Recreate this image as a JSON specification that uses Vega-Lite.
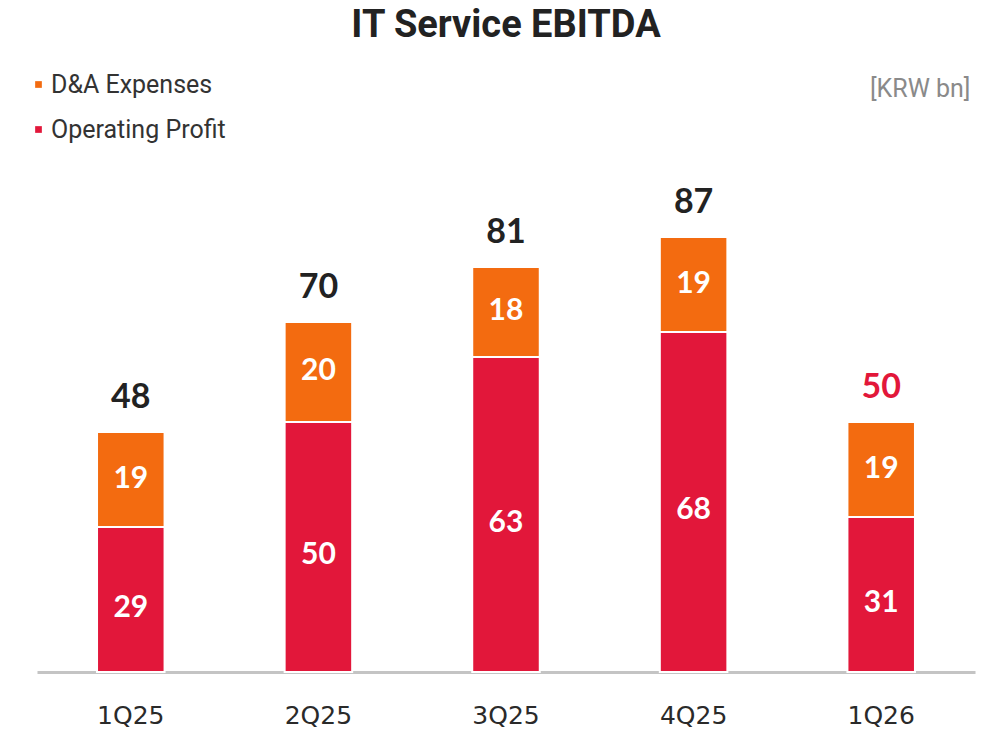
{
  "$schema": "https://vega.github.io/schema/vega-lite/v6.json",
  "width": 938,
  "height": 500,
  "autosize": {"type": "none"},
  "padding": {"left": 37, "right": 14, "top": 172, "bottom": 60},
  "background": "white",
  "config": {"view": {"stroke": null}},
  "title": {
    "text": "IT Service EBITDA",
    "font": "Roboto",
    "fontWeight": "bold",
    "fontSize": 38,
    "color": "#222222",
    "anchor": "middle",
    "frame": "group",
    "offset": 27
  },
  "datasets": {
    "parts": [
      {"quarter": "1Q25", "series": "Operating Profit", "value": 29},
      {"quarter": "1Q25", "series": "D&A Expenses", "value": 19},
      {"quarter": "2Q25", "series": "Operating Profit", "value": 50},
      {"quarter": "2Q25", "series": "D&A Expenses", "value": 20},
      {"quarter": "3Q25", "series": "Operating Profit", "value": 63},
      {"quarter": "3Q25", "series": "D&A Expenses", "value": 18},
      {"quarter": "4Q25", "series": "Operating Profit", "value": 68},
      {"quarter": "4Q25", "series": "D&A Expenses", "value": 19},
      {"quarter": "1Q26", "series": "Operating Profit", "value": 31},
      {"quarter": "1Q26", "series": "D&A Expenses", "value": 19}
    ],
    "totals": [
      {"quarter": "1Q25", "total": 48},
      {"quarter": "2Q25", "total": 70},
      {"quarter": "3Q25", "total": 81},
      {"quarter": "4Q25", "total": 87},
      {"quarter": "1Q26", "total": 50}
    ]
  },
  "encoding": {
    "x": {
      "field": "quarter",
      "type": "nominal",
      "sort": ["1Q25", "2Q25", "3Q25", "4Q25", "1Q26"],
      "scale": {"paddingInner": 0.64, "paddingOuter": 0.32},
      "axis": {
        "title": null,
        "labelAngle": 0,
        "labelFont": "DejaVu Sans",
        "labelFontSize": 25,
        "labelColor": "#2a2a2a",
        "labelPadding": 31,
        "ticks": false,
        "domainColor": "#c4c4c4",
        "domainWidth": 3,
        "grid": false
      }
    }
  },
  "layer": [
    {
      "data": {"name": "parts"},
      "mark": {"type": "bar", "stroke": "white", "strokeWidth": 2},
      "encoding": {
        "y": {
          "field": "value",
          "type": "quantitative",
          "stack": "zero",
          "scale": {"domain": [0, 100], "nice": false},
          "axis": {
            "orient": "right",
            "title": "[KRW bn]",
            "titleAngle": 0,
            "titleAlign": "right",
            "titleBaseline": "middle",
            "titleX": -5,
            "titleY": -84,
            "titleFont": "Roboto",
            "titleFontWeight": "normal",
            "titleFontSize": 25,
            "titleColor": "#8a8a8a",
            "labels": false,
            "ticks": false,
            "domain": false,
            "grid": false
          }
        },
        "color": {
          "field": "series",
          "type": "nominal",
          "scale": {"domain": ["D&A Expenses", "Operating Profit"], "range": ["#F36B10", "#E2173A"]},
          "legend": {
            "title": null,
            "orient": "none",
            "legendX": -11,
            "legendY": -100,
            "direction": "vertical",
            "symbolType": "square",
            "symbolSize": 45,
            "symbolStrokeWidth": 0,
            "labelFont": "Roboto",
            "labelFontSize": 25,
            "labelColor": "#333333",
            "labelOffset": 0,
            "labelLimit": 400,
            "rowPadding": 19,
            "padding": 0
          }
        },
        "order": {"field": "series", "sort": "descending"}
      }
    },
    {
      "data": {"name": "parts"},
      "transform": [
        {"stack": "value", "groupby": ["quarter"], "sort": [{"field": "series", "order": "descending"}], "as": ["v0", "v1"]},
        {"calculate": "(datum.v0 + datum.v1) / 2", "as": "mid"},
        {"filter": "datum.series == 'Operating Profit'"}
      ],
      "mark": {"type": "text", "font": "Lato", "fontWeight": "bold", "fontSize": 30, "color": "white", "baseline": "middle", "dy": 8},
      "encoding": {
        "y": {"field": "mid", "type": "quantitative"},
        "text": {"field": "value", "type": "quantitative"}
      }
    },
    {
      "data": {"name": "parts"},
      "transform": [
        {"stack": "value", "groupby": ["quarter"], "sort": [{"field": "series", "order": "descending"}], "as": ["v0", "v1"]},
        {"calculate": "(datum.v0 + datum.v1) / 2", "as": "mid"},
        {"filter": "datum.series == 'D&A Expenses'"}
      ],
      "mark": {"type": "text", "font": "Lato", "fontWeight": "bold", "fontSize": 30, "color": "white", "baseline": "middle", "dy": -1},
      "encoding": {
        "y": {"field": "mid", "type": "quantitative"},
        "text": {"field": "value", "type": "quantitative"}
      }
    },
    {
      "data": {"name": "totals"},
      "mark": {"type": "text", "font": "Lato", "fontWeight": "bold", "fontSize": 34, "baseline": "bottom", "dy": -17},
      "encoding": {
        "y": {"field": "total", "type": "quantitative"},
        "text": {"field": "total", "type": "quantitative"},
        "color": {
          "condition": {"test": "datum.quarter == '1Q26'", "value": "#E2173A"},
          "value": "#222222"
        }
      }
    }
  ]
}
